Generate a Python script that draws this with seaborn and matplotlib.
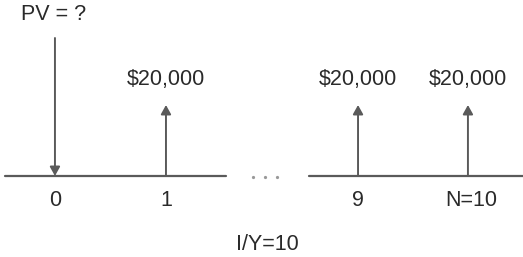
import matplotlib
matplotlib.use("Agg")
import matplotlib.pyplot as plt
import seaborn as sns

sns.set_theme(style="white")
plt.rcParams['font.family'] = ['Liberation Sans', 'DejaVu Sans']

# data
period_labels = ["0", "1", "9", "N=10"]
slots = [0.0, 1.0, 2.73, 3.72]          # horizontal slot of each period on the broken timeline
cash_labels = ["PV = ?", "$20,000", "$20,000", "$20,000"]
directions = [-1, 1, 1, 1]              # -1 = outflow (down arrow), 1 = inflow (up arrow)
rate_label = "I/Y=10"

fig = plt.figure(figsize=(5.23, 2.57), dpi=100)
ax = fig.add_axes([0, 0, 1, 1])
ax.set_xlim(-0.495, 4.216)
ax.set_ylim(0, 257)
ax.axis("off")

base = 81
line_col = "#5a5a5a"
txt_col = "#2a2a2a"
fs = 15.5

# broken timeline
ax.plot([-0.45, 1.54], [base, base], color=line_col, lw=1.6)
ax.plot([2.29, 4.22], [base, base], color=line_col, lw=1.6)
ax.plot([1.78, 1.89, 2.00], [base - 1, base - 1, base - 1], ls="none", marker="o", ms=1.3, color="#999999")

for s, lab, d, cl in zip(slots, period_labels, directions, cash_labels):
    ax.text(s + (0.03 if lab == "N=10" else 0), base - 24, lab, ha="center", va="center",
            fontsize=fs, color=txt_col)
    if d < 0:
        ax.annotate("", xy=(s, base), xytext=(s, 219),
                    arrowprops=dict(arrowstyle="-|>,head_length=0.45,head_width=0.25",
                                    color=line_col, lw=1.4, shrinkA=0, shrinkB=0))
        ax.text(s - 0.01, 242, cl, ha="center", va="center", fontsize=fs, color=txt_col)
    else:
        ax.annotate("", xy=(s, 152), xytext=(s, base),
                    arrowprops=dict(arrowstyle="-|>,head_length=0.45,head_width=0.25",
                                    color=line_col, lw=1.4, shrinkA=0, shrinkB=0))
        ax.text(s, 178, cl, ha="center", va="center", fontsize=fs, color=txt_col)

ax.text(1.91, 12, rate_label, ha="center", va="center", fontsize=fs, color=txt_col)

fig.savefig("out.png", dpi=100)
